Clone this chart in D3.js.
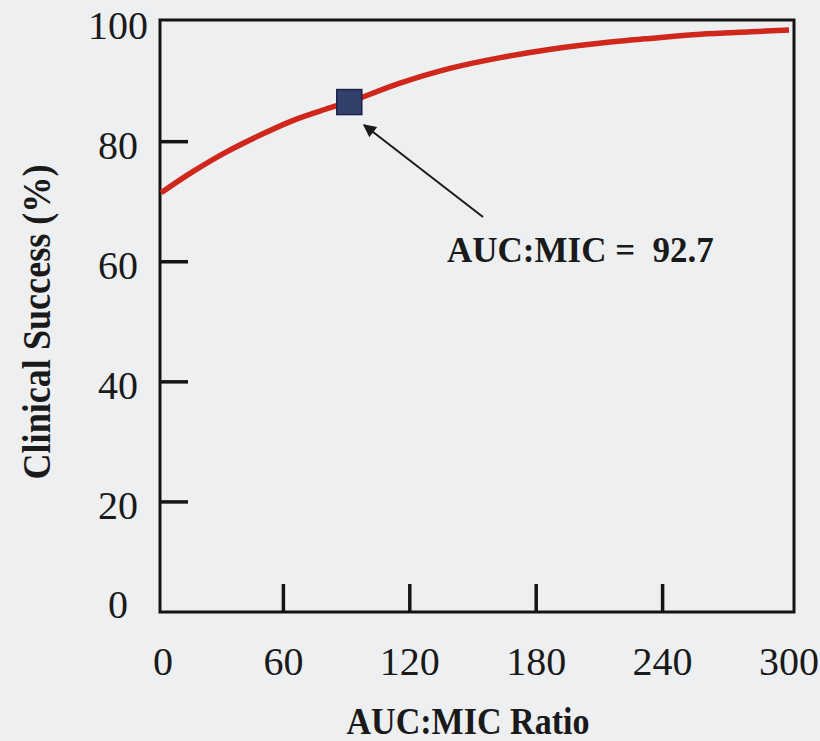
<!DOCTYPE html>
<html>
<head>
<meta charset="utf-8">
<script src="https://cdn.jsdelivr.net/npm/d3@7"></script>
<style>
  html, body { margin: 0; padding: 0; background: #eeeff1; }
  svg { display: block; }
  text { font-family: "Liberation Serif", "Times New Roman", serif; fill: #1a1a1a; }
</style>
</head>
<body>
<svg id="chart" width="820" height="741"></svg>
<script>
// ---- data ----
const aucMic   = [2, 17, 33, 49, 65, 80, 92.7, 115, 139, 163, 187, 210, 234, 258, 282, 300];
const success  = [71.5, 75.0, 78.3, 81.1, 83.6, 85.4, 86.8, 89.7, 92.2, 94.0, 95.4, 96.4, 97.2, 97.9, 98.3, 98.6];
const xTicks   = [0, 60, 120, 180, 240, 300];
const yTicks   = [0, 20, 40, 60, 80, 100];
const markerX  = [92.7];
const markerY  = [86.6];
const annotationText = "AUC:MIC =  92.7";
const xTitle = "AUC:MIC Ratio";
const yTitle = "Clinical Success (%)";

const svg = d3.select("#chart");

const frame = { left: 160, right: 794, top: 20, bottom: 612 };
const x = d3.scaleLinear().domain([0, 300]).range([157, 789]);
const y = d3.scaleLinear().domain([0, 100]).range([622, 21.6]);

// frame (box)
svg.append("rect")
  .attr("x", frame.left).attr("y", frame.top)
  .attr("width", frame.right - frame.left).attr("height", frame.bottom - frame.top)
  .attr("fill", "none").attr("stroke", "#141414").attr("stroke-width", 3);

// inward ticks
const yInner = yTicks.filter(d => d > 0 && d < 100);
svg.append("g").selectAll("line").data(yInner).join("line")
  .attr("x1", frame.left).attr("x2", frame.left + 28)
  .attr("y1", d => y(d)).attr("y2", d => y(d))
  .attr("stroke", "#141414").attr("stroke-width", 3.5);

const xInner = xTicks.filter(d => d > 0 && d < 300);
svg.append("g").selectAll("line").data(xInner).join("line")
  .attr("x1", d => x(d)).attr("x2", d => x(d))
  .attr("y1", frame.bottom).attr("y2", frame.bottom - 28)
  .attr("stroke", "#141414").attr("stroke-width", 3.5);

// y tick labels
svg.append("g").selectAll("text").data(yTicks).join("text")
  .attr("x", 118)
  .attr("y", d => d === 0 ? frame.bottom - 8 : y(d) + 4)
  .attr("text-anchor", "middle")
  .attr("dominant-baseline", "central")
  .attr("font-size", 40)
  .text(d => d);

// x tick labels
svg.append("g").selectAll("text").data(xTicks).join("text")
  .attr("x", d => d === 0 ? frame.left + 3 : x(d))
  .attr("y", 661)
  .attr("text-anchor", "middle")
  .attr("dominant-baseline", "central")
  .attr("font-size", 40)
  .text(d => d);

// axis titles
svg.append("text")
  .attr("x", 468).attr("y", 734)
  .attr("text-anchor", "middle")
  .attr("font-size", 37).attr("font-weight", "bold")
  .attr("textLength", 243).attr("lengthAdjust", "spacingAndGlyphs")
  .text(xTitle);

svg.append("text")
  .attr("transform", "translate(50,322) rotate(-90)")
  .attr("text-anchor", "middle")
  .attr("font-size", 39).attr("font-weight", "bold")
  .attr("textLength", 315).attr("lengthAdjust", "spacingAndGlyphs")
  .text(yTitle);

// curve
const pts = aucMic.map((d, i) => [d, success[i]]);
svg.append("path")
  .datum(pts)
  .attr("fill", "none")
  .attr("stroke", "#d0271d")
  .attr("stroke-width", 5.5)
  .attr("d", d3.line().x(d => x(d[0])).y(d => y(d[1])).curve(d3.curveCatmullRom));

// marker
const ms = 25;
svg.append("g").selectAll("rect").data(markerX).join("rect")
  .attr("x", (d, i) => x(d) - ms / 2 - 3)
  .attr("y", (d, i) => y(markerY[i]) - ms / 2)
  .attr("width", ms).attr("height", ms)
  .attr("fill", "#34406c").attr("stroke", "#1b2147").attr("stroke-width", 1.5);

// arrow
svg.append("defs").append("marker")
  .attr("id", "ah").attr("viewBox", "0 0 10 10")
  .attr("refX", 9).attr("refY", 5)
  .attr("markerWidth", 16).attr("markerHeight", 13)
  .attr("markerUnits", "userSpaceOnUse")
  .attr("orient", "auto")
  .append("path").attr("d", "M0,0 L10,5 L0,10 Z").attr("fill", "#1a1a1a");

svg.append("line")
  .attr("x1", 483).attr("y1", 217)
  .attr("x2", 364).attr("y2", 125)
  .attr("stroke", "#1a1a1a").attr("stroke-width", 2)
  .attr("marker-end", "url(#ah)");

// annotation label
svg.append("text")
  .attr("x", 447).attr("y", 262)
  .attr("font-size", 35).attr("font-weight", "bold")
  .style("white-space", "pre")
  .text(annotationText);
</script>
</body>
</html>
